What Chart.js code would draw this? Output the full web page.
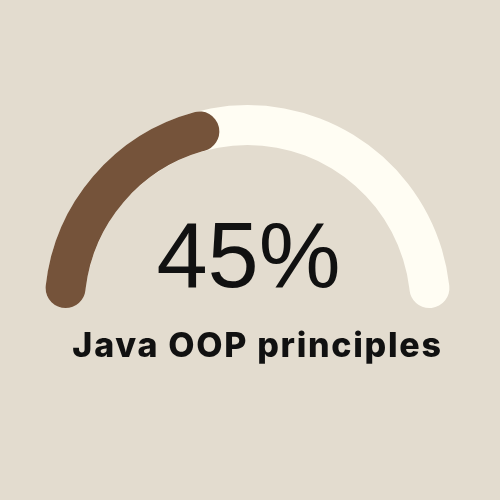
<!DOCTYPE html>
<html>
<head>
<meta charset="utf-8">
<script src="https://cdn.jsdelivr.net/npm/chart.js@4/dist/chart.umd.min.js"></script>
<style>
  html, body { margin: 0; padding: 0; background: #e3dccf; }
  #wrap { width: 500px; height: 500px; position: relative; }
</style>
</head>
<body>
<div id="wrap"><canvas id="c" width="500" height="500"></canvas></div>
<script>
const labels = ['Java OOP principles'];
const progress = [45];
const total = [100];
const centerText = ['45%'];

const colors = { fill: '#75533a', track: '#fffdf3', text: '#111111' };

const sameRing = {
  id: 'sameRing',
  afterDatasetsUpdate(chart) {
    const m0 = chart.getDatasetMeta(0);
    const m1 = chart.getDatasetMeta(1);
    const ref = m0.data[0];
    m1.data.forEach(el => {
      el.innerRadius = ref.innerRadius;
      el.outerRadius = ref.outerRadius;
      el.x = ref.x; el.y = ref.y;
    });
  }
};

const labelsPlugin = {
  id: 'labelsPlugin',
  afterDraw(chart) {
    const ctx = chart.ctx;
    const arc = chart.getDatasetMeta(0).data[0];
    ctx.save();
    ctx.fillStyle = colors.text;
    ctx.textAlign = 'center';
    ctx.textBaseline = 'alphabetic';
    ctx.font = '400 92px "Liberation Sans", Arial, sans-serif';
    ctx.fillText(centerText[0], arc.x + 1, arc.y - 21);
    ctx.font = '800 34px Inter, "Noto Sans", sans-serif';
    ctx.letterSpacing = '1.7px';
    ctx.fillText(labels[0], arc.x + 10, arc.y + 49);
    ctx.restore();
  }
};

new Chart(document.getElementById('c'), {
  type: 'doughnut',
  data: {
    labels: [labels[0], 'rest'],
    datasets: [
      {
        data: [progress[0], total[0] - progress[0]],
        backgroundColor: [colors.fill, 'rgba(0,0,0,0)'],
        borderWidth: 0,
        borderRadius: [999, 0],
        weight: 1
      },
      {
        data: [total[0]],
        backgroundColor: [colors.track],
        borderWidth: 0,
        borderRadius: 999,
        weight: 0
      }
    ]
  },
  options: {
    responsive: false,
    animation: false,
    rotation: -90,
    circumference: 180,
    cutout: '80.3%',
    layout: { padding: { left: 44.5, right: 49.5, top: 105, bottom: 192 } },
    plugins: { legend: { display: false }, tooltip: { enabled: false } },
    events: []
  },
  plugins: [sameRing, labelsPlugin]
});
</script>
</body>
</html>
